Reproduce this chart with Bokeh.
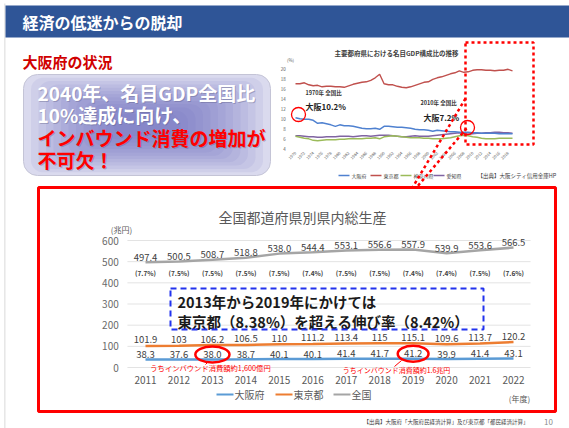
from bokeh.plotting import figure
from bokeh.models import Range1d, BoxAnnotation
from bokeh.core.properties import value
from bokeh.embed import file_html
from bokeh.resources import INLINE
import math

JP = "Noto Sans CJK JP"

# ---------------- main chart data ----------------
years = [2011, 2012, 2013, 2014, 2015, 2016, 2017, 2018, 2019, 2020, 2021, 2022]
zenkoku = [497.4, 500.5, 508.7, 518.8, 538.0, 544.4, 553.1, 556.6, 557.9, 539.9, 553.6, 566.5]
zenkoku_labels = ["497.4", "500.5", "508.7", "518.8", "538.0", "544.4", "553.1", "556.6",
                  "557.9", "539.9", "553.6", "566.5"]
osaka_share = ["(7.7%)", "(7.5%)", "(7.5%)", "(7.5%)", "(7.5%)", "(7.4%)", "(7.5%)", "(7.5%)",
               "(7.4%)", "(7.4%)", "(7.5%)", "(7.6%)"]
tokyo = [101.9, 103, 106.2, 106.5, 110, 111.2, 113.4, 115, 115.1, 109.6, 113.7, 120.2]
tokyo_labels = ["101.9", "103", "106.2", "106.5", "110", "111.2", "113.4", "115", "115.1",
                "109.6", "113.7", "120.2"]
osaka = [38.3, 37.6, 38.0, 38.7, 40.1, 40.1, 41.4, 41.7, 41.2, 39.9, 41.4, 43.1]
osaka_labels = ["38.3", "37.6", "38.0", "38.7", "40.1", "40.1", "41.4", "41.7", "41.2", "39.9",
                "41.4", "43.1"]
y_ticks = [0, 100, 200, 300, 400, 500, 600]
y_tick_labels = ["0", "100", "200", "300", "400", "500", "600"]
year_labels = [str(y) for y in years]
highlight_years = [2013, 2019]
highlight_vals = [38.0, 41.2]
series_names = ["大阪府", "東京都", "全国"]

# ---------------- inset chart data (share of nominal GDP, %) ----------------
inset_years = [1970, 1971, 1972, 1973, 1974, 1975, 1976, 1977, 1978, 1979,
               1980, 1981, 1982, 1983, 1984, 1985, 1986, 1987, 1988, 1989,
               1990, 1991, 1992, 1993, 1994, 1995, 1996, 1997, 1998, 1999,
               2000, 2001, 2002, 2003, 2004, 2005, 2006, 2007, 2008, 2009,
               2010, 2011, 2012, 2013, 2014, 2015, 2016, 2017, 2018, 2019]
inset_tokyo = [17.0, 17.0, 17.2, 16.8, 16.6, 16.7, 16.4, 16.5, 16.5, 16.4,
               16.4, 16.3, 16.6, 16.9, 17.1, 17.3, 17.4, 17.7, 18.2, 18.9,
               17.0, 16.8, 16.8, 16.5, 16.3, 16.2, 16.4, 16.7, 17.0, 17.3,
               17.4, 17.9, 18.2, 18.4, 18.7, 19.0, 19.2, 19.6, 19.3, 19.4,
               19.7, 19.8, 19.8, 19.7, 19.7, 19.6, 19.7, 19.7, 19.9, 19.6]
inset_osaka = [10.2, 10.0, 9.9, 9.9, 9.7, 9.1, 9.2, 9.0, 8.8, 8.5,
               8.8, 8.6, 8.6, 8.5, 8.3, 8.1, 8.0, 8.0, 8.1, 7.9,
               8.5, 8.5, 8.4, 8.3, 8.3, 8.2, 8.1, 7.9, 7.8, 7.8,
               7.7, 7.5, 7.7, 7.6, 7.5, 7.4, 7.4, 7.3, 7.3, 7.3,
               7.2, 7.2, 7.1, 7.1, 7.1, 7.1, 7.0, 7.0, 7.0, 7.0]
inset_kanagawa = [6.5, 6.3, 6.1, 6.0, 5.7, 5.6, 5.7, 5.8, 5.8, 5.8,
                  5.9, 5.9, 6.0, 6.0, 6.0, 6.0, 6.1, 6.1, 6.2, 6.0,
                  6.4, 6.5, 6.6, 6.5, 6.4, 6.3, 6.2, 6.2, 6.2, 6.1,
                  6.1, 6.0, 6.0, 6.0, 6.1, 6.2, 6.4, 6.6, 6.7, 6.6,
                  6.4, 6.3, 6.1, 6.0, 6.0, 6.0, 6.1, 6.1, 6.1, 6.1]
inset_aichi = [6.6, 6.6, 6.5, 6.4, 6.4, 6.3, 6.3, 6.4, 6.4, 6.4,
               6.5, 6.5, 6.5, 6.4, 6.5, 6.6, 6.6, 6.5, 6.6, 6.7,
               6.7, 6.7, 6.6, 6.5, 6.4, 6.4, 6.5, 6.6, 6.5, 6.5,
               6.5, 6.6, 6.7, 6.8, 6.9, 7.0, 7.1, 7.2, 7.0, 6.9,
               7.0, 7.1, 7.1, 7.2, 7.2, 7.3, 7.3, 7.2, 7.2, 7.1]
inset_y_ticks = [4, 6, 8, 10, 12, 14, 16, 18, 20]
inset_x_ticks = [1970, 1972, 1974, 1976, 1978, 1980, 1982, 1984, 1986, 1988, 1990, 1992,
                 1994, 1996, 1998, 2000, 2002, 2004, 2006, 2008, 2010, 2012, 2014, 2016, 2018]
inset_names = ["大阪府", "東京都", "神奈川県", "愛知県"]

# ---------------- page geometry (image pixel coordinates) ----------------
W, H = 569, 428
PX0, PY0 = 0, 0
PX1, PY1 = PX0 + W, PY0 + H


def lin_range(v0, p0, v1, p1, pa, pb):
    f = lambda pp: v0 + (pp - p0) * (v1 - v0) / (p1 - p0)
    return Range1d(start=f(pa), end=f(pb))


p = figure(width=W, height=H, x_range=Range1d(PX0, PX1), y_range=Range1d(PY1, PY0),
           output_backend="svg", toolbar_location=None,
           x_axis_location=None, y_axis_location=None, min_border=0,
           outline_line_color=None, background_fill_color="white",
           border_fill_color="white")
for g in p.grid:
    g.visible = False

# main chart: 2011 at x=145, 2022 at x=513; 0 at y=367, 600 at y=240
MX = dict(x_range_name="mx", y_range_name="my")
p.extra_x_ranges = {"mx": lin_range(2011, 145, 2022, 513, PX0, PX1),
                    "ix": lin_range(1970, 295, 2019, 512, PX0, PX1)}
p.extra_y_ranges = {"my": lin_range(0, 367, 600, 240, PY1, PY0),
                    "iy": lin_range(4, 148.3, 20, 68.3, PY1, PY0)}
PXU = 127.0 / 600.0  # px per data unit in main chart


def t(x, y, s, size, color="#404040", align="left", bold=False, base="middle", **kw):
    p.text(x=x, y=y, text=s, text_font=value(JP), text_font_size=size,
           text_color=color, text_align=align, text_baseline=base,
           text_font_style="bold" if bold else "normal", **kw)


def box(**kw):
    kw.setdefault("fill_alpha", 0)
    kw.setdefault("line_alpha", 1)
    p.add_layout(BoxAnnotation(**kw))


# ---------------- slide decorations ----------------
box(left=4, right=4.8, top=3, bottom=428, fill_color="#D0D0D0", fill_alpha=1,
    line_color=None, level="underlay")
box(left=5, right=569, top=5, bottom=37, fill_color="#2F5597", fill_alpha=1,
    line_color=None, level="underlay")
t([22], [21], ["経済の低迷からの脱却"], "16px", color="white", bold=True)
t([22], [61], ["大阪府の状況"], "15px", color="#D00000", bold=True)

# gradient box
box(left=23, right=270, top=74, bottom=175, fill_color="#DADAEE", fill_alpha=1,
    line_color="#C4C4D6", line_width=1, border_radius=14, level="underlay")
for i in range(1, 13):
    dx, dy = i * 7.5, i * 3.3
    box(left=23 + dx, right=270 - dx, top=74 + dy, bottom=175 - dy,
        fill_color="#6466B8", fill_alpha=0.09, line_color=None,
        border_radius=12, level="underlay")
box_lines = ["2040年、名目GDP全国比", "10%達成に向け、", "インバウンド消費の増加が", "不可欠！"]
box_colors = ["white", "white", "#FF0000", "#FF0000"]
box_y = [92, 114, 137, 159]
t([38 for _ in box_lines], [y + 1 for y in box_y], box_lines, "19px", color="#55557a",
  bold=True, text_alpha=0.35)
t([37 for _ in box_lines], box_y, box_lines, "19px", color=box_colors, bold=True)

# ---------------- inset chart ----------------
IX = dict(x_range_name="ix", y_range_name="iy")
t([396], [52], ["主要都府県における名目GDP構成比の推移"], "6.5px", color="#404040", bold=True,
  align="center")
t([290], [59], ["(%)"], "4.5px", color="#595959", align="center")
p.text(x=[1967.8] * len(inset_y_ticks), y=inset_y_ticks, text=[str(v) for v in inset_y_ticks],
       text_font=value(JP), text_font_size="4.5px", text_color="#595959", text_align="right",
       text_baseline="middle", **IX)
p.text(x=inset_x_ticks, y=[3.3] * len(inset_x_ticks), text=[str(v) for v in inset_x_ticks],
       angle=math.pi / 4, text_font=value(JP), text_font_size="4px", text_color="#595959",
       text_align="right", text_baseline="middle", **IX)
inset_colors = ["#4F81D0", "#C0504D", "#9BBB59", "#8064A2"]
for ser, col in zip([inset_aichi, inset_kanagawa, inset_osaka, inset_tokyo],
                    ["#8064A2", "#9BBB59", "#4F81D0", "#C0504D"]):
    p.line(inset_years, ser, line_color=col, line_width=1.4, **IX)

t([305], [92], ["1970年  全国比"], "5.5px", color="#333333", bold=True)
t([305], [106], ["大阪10.2%"], "8px", color="#222222", bold=True)
t([420], [102], ["2010年  全国比"], "5.5px", color="#333333", bold=True)
t([423], [117], ["大阪7.2%"], "8px", color="#222222", bold=True)
p.ellipse(x=[298, 467], y=[114, 127], width=14, height=14, fill_alpha=0,
          line_color="#FF0000", line_width=1.3)

leg_x = [338, 370, 400, 433]
for lx, col, nm in zip(leg_x, inset_colors, inset_names):
    p.line([lx, lx + 11], [175, 175], line_color=col, line_width=1.4)
    t([lx + 13], [175], [nm], "5px", color="#404040")
t([477], [175], ["【出典】大阪シティ信用金庫HP"], "5.5px", color="#404040")

# ---------------- main chart frame ----------------
box(left=38, right=555, top=187, bottom=411, line_color="#FF0000", line_width=3,
    level="overlay")

t([302], [216], ["全国都道府県別県内総生産"], "14px", color="#595959", align="center")
t([121], [229], ["(兆円)"], "8px", color="#595959", align="center")

# grid lines + tick labels
p.segment(x0=[2010.46] * len(y_ticks), x1=[2022.51] * len(y_ticks), y0=y_ticks, y1=y_ticks,
          line_color="#E3E3E3", line_width=1, **MX)
p.text(x=[2010.2] * len(y_ticks), y=y_ticks, text=y_tick_labels, text_font=value(JP),
       text_font_size="10px", text_color="#6A6A6A", text_align="right",
       text_baseline="middle", **MX)
p.text(x=years, y=[-12 / PXU] * len(years), text=year_labels, text_font=value(JP),
       text_font_size="10px", text_color="#595959", text_align="center",
       text_baseline="middle", **MX)

# series lines
line_cols = ["#5B9BD5", "#ED7D31", "#A5A5A5"]
for ser, col in zip([osaka, tokyo, zenkoku], line_cols):
    p.line(years, ser, line_color=col, line_width=2.5, **MX)

# data labels
p.text(x=years, y=[v + 5 / PXU for v in zenkoku], text=zenkoku_labels, text_font=value(JP),
       text_font_size="9.5px", text_color="#404040", text_align="center",
       text_baseline="middle", **MX)
p.text(x=years, y=[272] * len(years), text=osaka_share, text_font=value(JP),
       text_font_size="6.5px", text_color="#404040", text_align="center",
       text_baseline="middle", text_font_style="bold", x_range_name="mx")
p.text(x=years, y=[v + 6 / PXU for v in tokyo], text=tokyo_labels, text_font=value(JP),
       text_font_size="9.5px", text_color="#404040", text_align="center",
       text_baseline="middle", **MX)
p.text(x=years, y=[v + 5 / PXU for v in osaka], text=osaka_labels, text_font=value(JP),
       text_font_size="9.5px", text_color="#404040", text_align="center",
       text_baseline="middle", **MX)

# highlight ellipses
p.ellipse(x=highlight_years, y=[v + 5 / PXU for v in highlight_vals], width=[1.02, 0.92],
          height=16 / PXU, fill_alpha=0, line_color="#FF0000", line_width=2.5, **MX)
p.line([208, 205], [361, 364], line_color="#FF0000", line_width=1)
p.line([401, 394], [360, 366], line_color="#FF0000", line_width=1)
t([210], [367], ["うちインバウンド消費額約1,600億円"], "7.3px", color="#FF0000", align="center")
t([396], [369], ["うちインバウンド消費額約1.6兆円"], "7px", color="#FF0000", align="center")

# dashed blue box with message
box(left=170, right=483, top=288, bottom=329, line_color="#2233EE", line_width=2,
    line_dash="6 4", level="overlay")
t([177], [301], ["2013年から2019年にかけては"], "14.5px", color="#1A1A1A", bold=True)
t([177], [321], ["東京都（8.38%）を超える伸び率（8.42%）"], "14.5px", color="#1A1A1A",
  bold=True)

# legend
leg_main_x = [216, 275, 333]
for lx, col, nm in zip(leg_main_x, line_cols, series_names):
    p.line([lx, lx + 17], [394, 394], line_color=col, line_width=2)
    t([lx + 18], [394], [nm], "10px", color="#595959")
t([519], [398], ["(年度)"], "8px", color="#595959", align="center")

# dotted connectors
dot = dict(line_color="#FF0000", line_width=2.5, line_dash="3 3")
p.line([465, 533, 533, 465, 465], [42, 42, 144, 144, 42], **dot)
p.line([465, 412], [98, 187], **dot)
p.line([466, 416], [128, 187], **dot)

# footer
t([528], [421], ["【出典】大阪府「大阪府民経済計算」及び東京都「都民経済計算」"], "5.5px",
  color="#404040", align="right")
t([548], [421], ["10"], "8px", color="#8C8C8C", align="center")

open("out.html", "w").write(file_html(p, INLINE))
